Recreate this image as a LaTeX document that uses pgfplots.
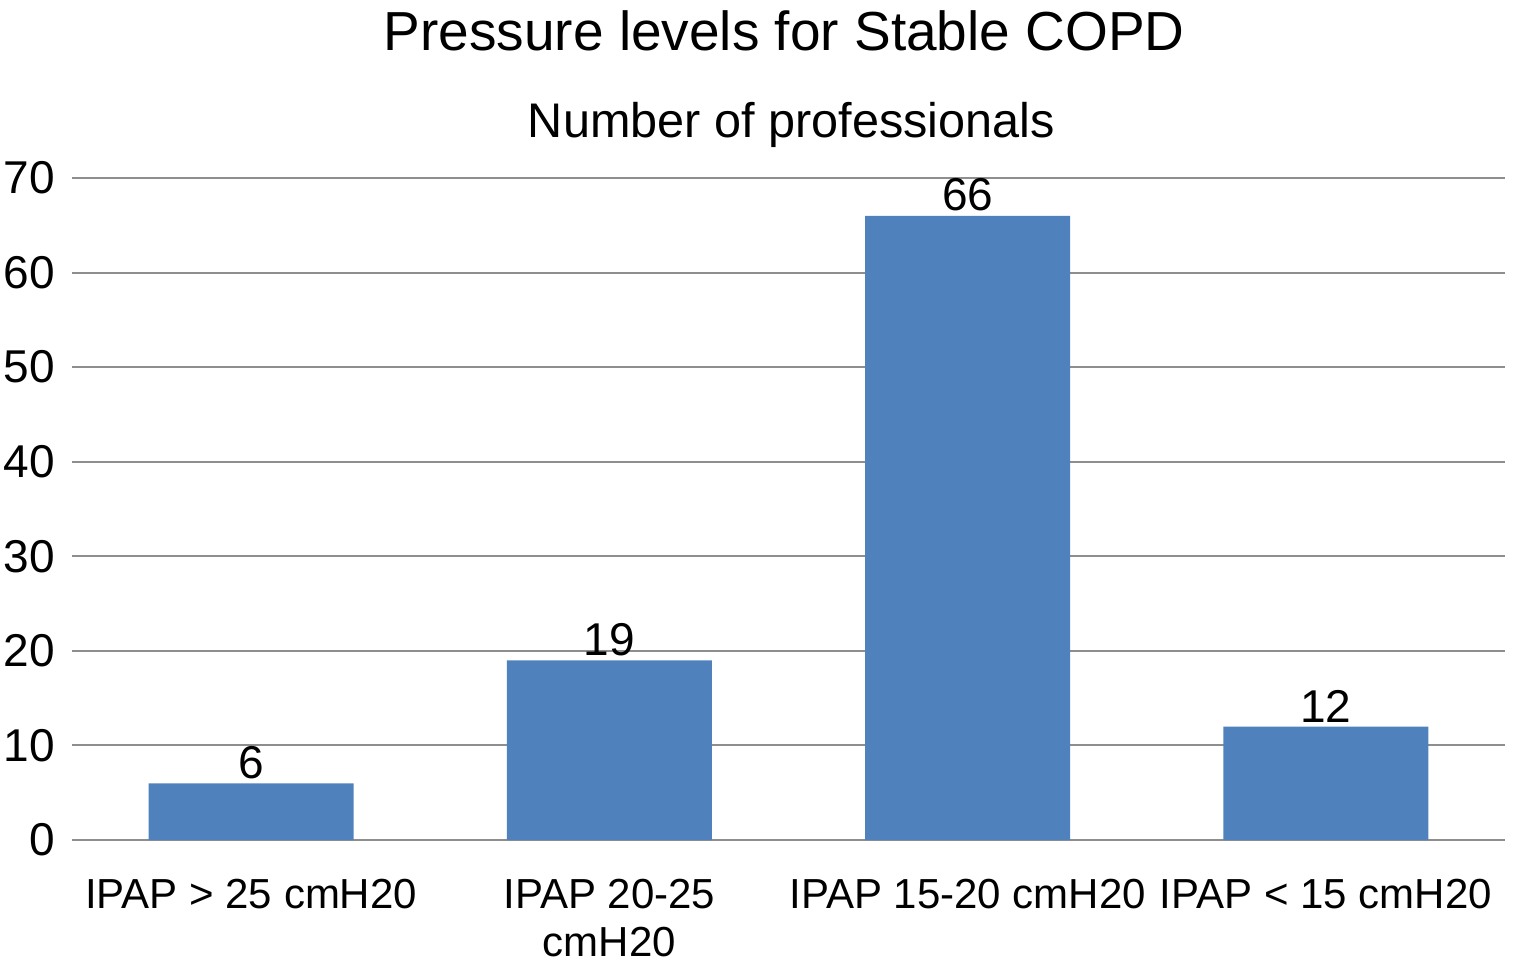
\documentclass[border=0pt]{standalone}
\usepackage{fontspec}
\setmainfont{Liberation Sans}
\usepackage{pgfplots}
\pgfplotsset{compat=1.18}
\definecolor{barblue}{HTML}{4F81BD}
\definecolor{gridgray}{HTML}{8E8E8E}
\begin{document}
\begin{tikzpicture}
\path[use as bounding box] (-36pt,-63pt) rectangle (723pt,420pt);
\begin{axis}[
    scale only axis,
    width=716.5pt, height=331pt,
    anchor=south west, at={(0,0)},
    clip=false,
    xmin=-0.5, xmax=3.5,
    ymin=0, ymax=70,
    ytick={0,10,...,70},
    xtick=data,
    xticklabels={IPAP > 25 cmH20, {IPAP 20-25\\cmH20}, IPAP 15-20 cmH20, IPAP < 15 cmH20},
    axis line style={draw=none},
    major tick length=0pt,
    ymajorgrids,
    grid style={gridgray, line width=1pt},
    ybar, bar width=102.5pt,
    /pgf/number format/assume math mode=true,
    xticklabel style={font=\fontsize{21}{24}\selectfont, align=center, yshift=-16pt},
    yticklabel style={font=\fontsize{23}{27}\selectfont, xshift=-5pt},
    nodes near coords,
    every node near coord/.append style={font=\fontsize{23}{27}\selectfont, inner sep=2pt},
]
\addplot[fill=barblue, draw=none] coordinates {(0,6) (1,19) (2,66) (3,12)};
\node[anchor=base, font=\fontsize{27.5}{32}\selectfont] at (rel axis cs:0.497,1) [yshift=64pt] {Pressure levels for Stable COPD};
\node[anchor=base, font=\fontsize{24.3}{29}\selectfont] at (rel axis cs:0.502,1) [yshift=20.5pt] {Number of professionals};
\end{axis}
\end{tikzpicture}
\end{document}
